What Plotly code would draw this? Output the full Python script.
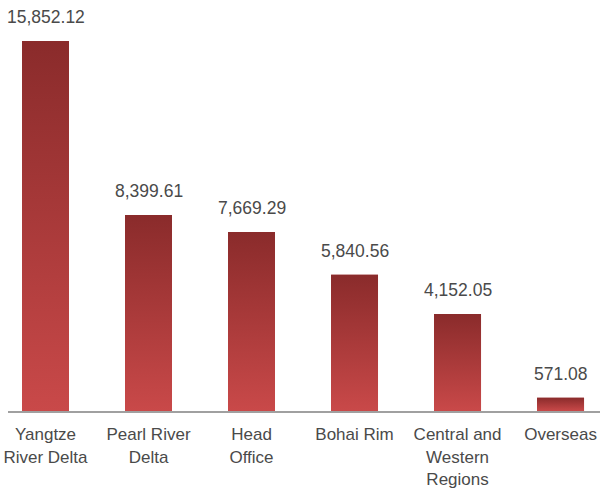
import plotly.graph_objects as go

categories = ["Yangtze<br>River Delta", "Pearl River<br>Delta", "Head<br>Office",
              "Bohai Rim", "Central and<br>Western<br>Regions", "Overseas"]
values = [15852.12, 8399.61, 7669.29, 5840.56, 4152.05, 571.08]
value_labels = ["15,852.12", "8,399.61", "7,669.29", "5,840.56", "4,152.05", "571.08"]

DARK = "#8a2b2b"
LIGHT = "#c94949"
FONT = "Liberation Sans"
TXT = "#4a4a4a"
W = 0.456

xs = list(range(len(values)))
fig = go.Figure()
fig.add_trace(go.Bar(x=xs, y=values, width=W, marker=dict(color="#a83a3a", line=dict(width=0)),
                     hoverinfo="skip", showlegend=False))
for i, v in zip(xs, values):
    fig.add_trace(go.Scatter(
        x=[i - W / 2, i + W / 2, i + W / 2, i - W / 2, i - W / 2],
        y=[0, 0, v, v, 0], mode="lines", line=dict(width=0), fill="toself",
        fillgradient=dict(type="vertical", colorscale=[[0, LIGHT], [1, DARK]]),
        hoverinfo="skip", showlegend=False))
    fig.add_annotation(x=i, y=v, text=value_labels[i], showarrow=False, yanchor="bottom",
                       yshift=12, font=dict(family=FONT, size=17.5, color=TXT))

fig.update_layout(
    width=600, height=488, margin=dict(l=8, r=0, t=0, b=77),
    paper_bgcolor="white", plot_bgcolor="white",
    xaxis=dict(range=[-0.364, 5.383], tickmode="array", tickvals=xs, ticktext=categories,
               showgrid=False, zeroline=False, showline=True, linecolor="#a0a0a0", linewidth=2,
               ticks="", ticklabelstandoff=7,
               tickfont=dict(family=FONT, size=17, color=TXT), fixedrange=True),
    yaxis=dict(range=[0, 17609], visible=False, showgrid=False, zeroline=False),
)
fig.write_html("out.html")
